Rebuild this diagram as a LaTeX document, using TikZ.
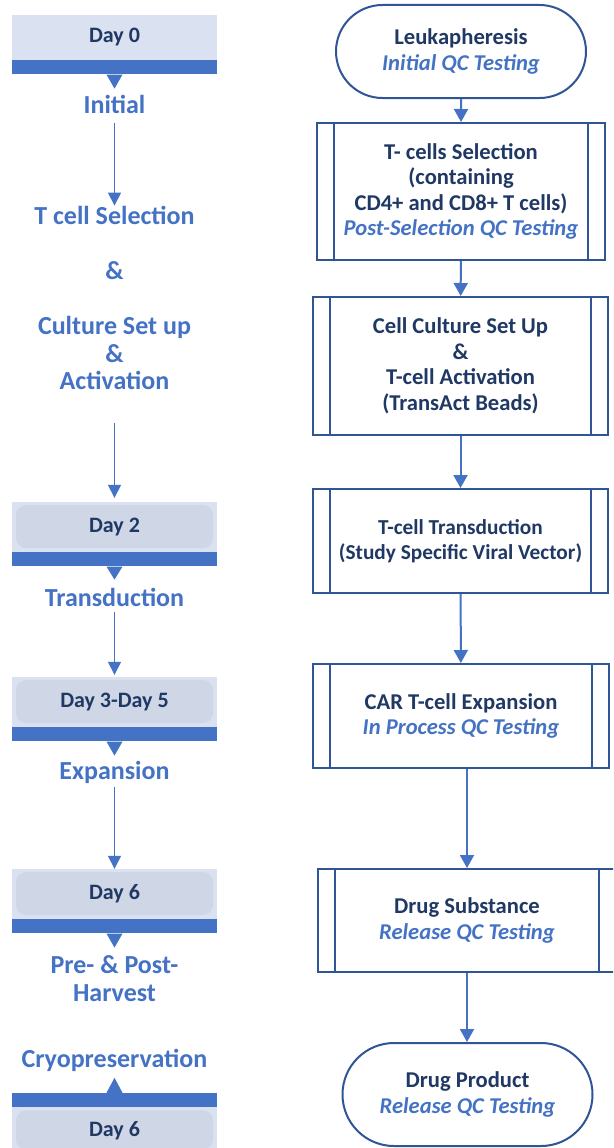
\documentclass[tikz,border=0pt]{standalone}
\usepackage{fontspec}
\setmainfont{Carlito}
\usetikzlibrary{arrows.meta,shapes.misc}
\definecolor{navy}{HTML}{203864}
\definecolor{qcblue}{HTML}{4472C4}
\definecolor{boxblue}{HTML}{2F5597}
\definecolor{dayfill}{HTML}{DAE1F1}
\definecolor{dayinner}{HTML}{CFD7E7}
\newcommand{\qctext}[1]{\textit{\color{qcblue}#1}}

\begin{document}
\begin{tikzpicture}[x=1pt,y=1pt,font=\bfseries]
\tikzstyle{every node}+=[inner sep=0pt]
\tikzstyle{daybox}=[fill=dayfill, minimum width=205pt, minimum height=50pt, text=navy, font=\fontsize{22}{26}\selectfont\bfseries]
\tikzstyle{dayround}=[daybox, path picture={\fill[dayinner, rounded corners=10pt] ([shift={(4pt,-3pt)}]path picture bounding box.north west) rectangle ([shift={(-4pt,4pt)}]path picture bounding box.south east);}]
\tikzstyle{band}=[fill=qcblue, minimum width=205pt, minimum height=14pt]
\tikzstyle{lab}=[text=qcblue, align=center, font=\fontsize{26}{27.5}\selectfont\bfseries]
\tikzstyle{larrow}=[qcblue, line width=1.5pt, -{Triangle[width=13pt,length=13pt]}]
\tikzstyle{rarrow}=[qcblue, line width=2pt, -{Triangle[width=14pt,length=13pt]}]
\tikzstyle{proc}=[draw=boxblue, line width=2pt, fill=white, text=navy, align=center, font=\fontsize{22.6}{25.5}\selectfont\bfseries, path picture={\draw[boxblue, line width=2pt] ([xshift=17pt]path picture bounding box.north west) -- ([xshift=17pt]path picture bounding box.south west) ([xshift=-17pt]path picture bounding box.north east) -- ([xshift=-17pt]path picture bounding box.south east);}]
\tikzstyle{term}=[rounded rectangle, draw=boxblue, line width=2pt, fill=white, minimum width=250pt, minimum height=93pt, text=navy, align=center, font=\fontsize{22.6}{25.5}\selectfont\bfseries]
\useasboundingbox (0,0) rectangle (613,-1148);
\clip (0,0) rectangle (613,-1148);
\fill[white] (0,0) rectangle (613,-1148);
% time line
\node[daybox, minimum height=45pt] (d0) at (114.5,-37.5) {Day 0};
\node[band, anchor=north] (d0b) at (d0.south) {};
\fill[qcblue] ([xshift=-8pt]d0b.south) -- ([xshift=8pt]d0b.south) -- ([yshift=-14pt]d0b.south) -- cycle;
\node[lab] (lInit) at (114.5,-104) {Initial};
\node[lab] (lSel) at (114.5,-215) {T cell Selection};
\node[lab] (lAmp) at (114.5,-271) {\&};
\node[lab] (lAct) at (114.5,-353) {Culture Set up\\\&\\Activation};
\node[dayround] (d2) at (114.5,-527) {Day 2};
\node[band, anchor=north] (d2b) at (d2.south) {};
\fill[qcblue] ([xshift=-8pt]d2b.south) -- ([xshift=8pt]d2b.south) -- ([yshift=-13pt]d2b.south) -- cycle;
\node[lab] (lTrd) at (114.5,-597) {Transduction};
\node[dayround] (d3) at (114.5,-702) {Day 3-Day 5};
\node[band, anchor=north] (d3b) at (d3.south) {};
\fill[qcblue] ([xshift=-8pt]d3b.south) -- ([xshift=8pt]d3b.south) -- ([yshift=-14pt]d3b.south) -- cycle;
\node[lab] (lExp) at (114.5,-772) {Expansion};
\node[dayround] (d6) at (114.5,-894) {Day 6};
\node[band, anchor=north] (d6b) at (d6.south) {};
\fill[qcblue] ([xshift=-8pt]d6b.south) -- ([xshift=8pt]d6b.south) -- ([yshift=-14pt]d6b.south) -- cycle;
\node[lab] (lHar) at (114.5,-978.5) {Pre- \& Post-\\Harvest};
\node[lab] (lCry) at (114.5,-1060) {Cryopreservation};
\node[band] (d7b) at (114.5,-1100) {};
\fill[qcblue] ([xshift=-8pt]d7b.north) -- ([xshift=8pt]d7b.north) -- ([yshift=15pt]d7b.north) -- cycle;
\node[dayround, anchor=north, minimum height=46pt] (d7) at (d7b.south) {Day 6};
\draw[larrow, shorten <=9.5pt] (lInit.south) -- (lSel.north);
\draw[larrow, shorten <=33.5pt, shorten >=4pt] (lAct.south) -- (d2.north);
\draw[larrow, shorten <=6pt, shorten >=2pt] (lTrd.south) -- (d3.north);
\draw[larrow, shorten <=3.5pt] (lExp.south) -- (d6.north);
% process
\node[term] (leuka) at (461,-51.5) {Leukapheresis\\\qctext{Initial QC Testing}};
\node[proc, minimum width=288pt, minimum height=137pt] (sel) at (461,-191.5) {T- cells Selection\\(containing\\CD4+ and CD8+ T cells)\\\qctext{Post-Selection QC Testing}};
\node[proc, minimum width=295pt, minimum height=138pt] (cult) at (460.5,-366) {Cell Culture Set Up\\\&\\T-cell Activation\\(TransAct Beads)};
\node[proc, minimum width=295pt, minimum height=104pt, font=\fontsize{21.3}{25.5}\selectfont\bfseries] (trd) at (460.5,-541) {T-cell Transduction\\(Study Specific Viral Vector)};
\node[proc, minimum width=296pt, minimum height=104pt] (exp) at (461,-716) {CAR T-cell Expansion\\\qctext{In Process QC Testing}};
\node[proc, minimum width=298pt, minimum height=103pt] (ds) at (467,-920.5) {Drug Substance\\\qctext{Release QC Testing}};
\node[term, minimum height=103pt] (dp) at (467.5,-1094.5) {Drug Product\\\qctext{Release QC Testing}};
\draw[rarrow] (leuka) -- (sel);
\draw[rarrow] (sel) -- (cult);
\draw[rarrow] (cult) -- (trd);
\draw[rarrow] (trd) -- (exp);
\draw[rarrow] (ds.north |- exp.south) -- (ds.north);
\draw[rarrow] (ds.south) -- (ds.south |- dp.north);
\end{tikzpicture}
\end{document}
